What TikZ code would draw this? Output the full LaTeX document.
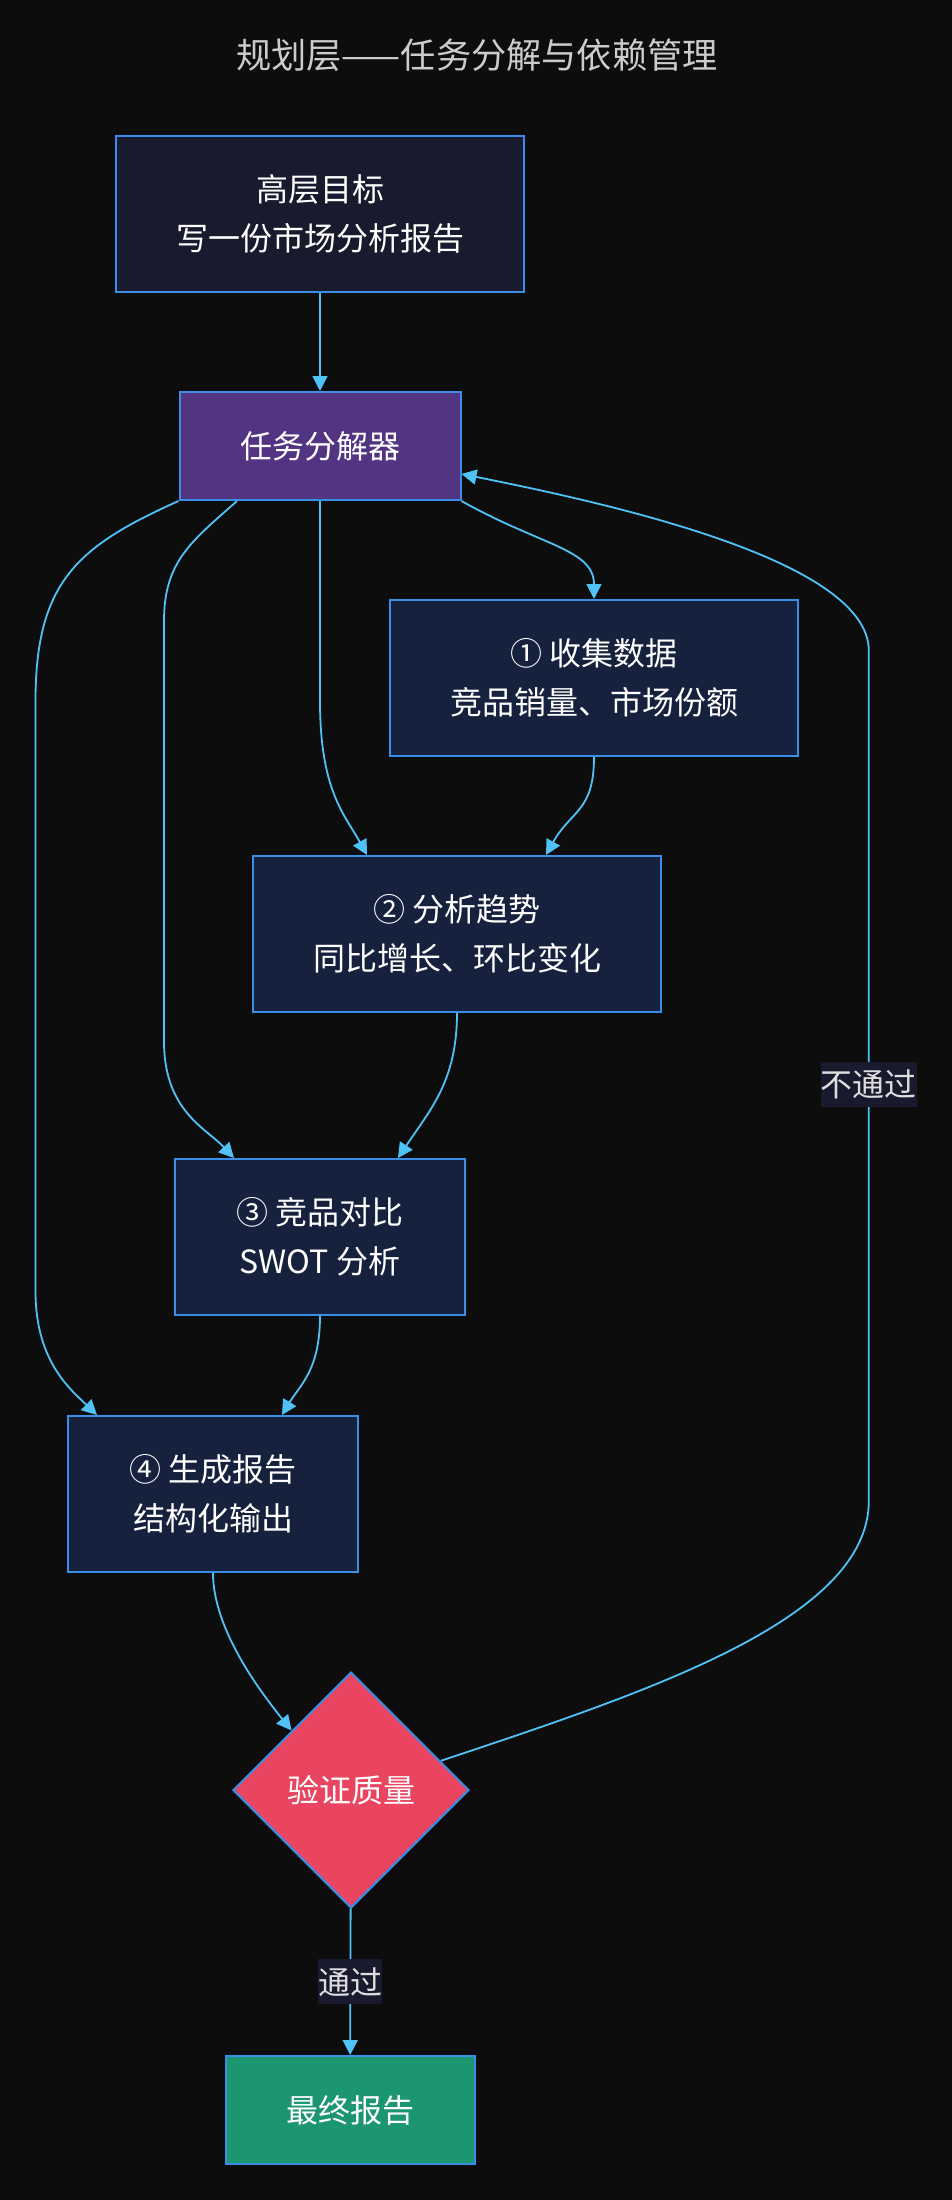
\documentclass[tikz,border=0pt]{standalone}
\usepackage{fontspec}
\setmainfont{Noto Sans CJK SC}
\usetikzlibrary{arrows.meta,shapes.geometric,calc}

\definecolor{bgdark}{HTML}{0D0D0D}
\definecolor{goalfill}{HTML}{1A1A2E}
\definecolor{taskfill}{HTML}{16213E}
\definecolor{splitfill}{HTML}{533483}
\definecolor{checkfill}{HTML}{E94560}
\definecolor{finalfill}{HTML}{1B9670}
\definecolor{boxline}{HTML}{3A8EE8}
\definecolor{edgeblue}{HTML}{4FC3F7}

\begin{document}
\begin{tikzpicture}[x=0.5pt, y=-0.5pt,
    every node/.style={font=\fontsize{16}{24.5}\selectfont, text=white, align=center},
    box/.style={draw=boxline, line width=1pt, inner sep=0pt},
    taskbox/.style={box, fill=taskfill, minimum height=78pt},
    edge/.style={draw=edgeblue, line width=0.9pt, -{Triangle[length=7.5pt, width=7.5pt]}},
    edgelabel/.style={fill=goalfill, text=black!13, inner xsep=0pt, inner ysep=4pt}]
    \fill[bgdark] (0,0) rectangle (952,2200);

    \node[text=black!20, font=\fontsize{17.6}{20}\selectfont] (title) at (477,55) {规划层——任务分解与依赖管理};

    \node[box, fill=goalfill, minimum width=204pt, minimum height=78pt] (goal) at (320,214) {高层目标\\写一份市场分析报告};
    \node[box, fill=splitfill, minimum width=140.5pt, minimum height=54pt] (splitter) at (320,446) {任务分解器};
    \node[taskbox, minimum width=204pt] (collect) at (594,678) {① 收集数据\\竞品销量、市场份额};
    \node[taskbox, minimum width=204pt] (trend) at (457,934) {② 分析趋势\\同比增长、环比变化};
    \node[taskbox, minimum width=145pt] (compare) at (320,1237) {③ 竞品对比\\SWOT 分析};
    \node[taskbox, minimum width=145pt] (report) at (213,1494) {④ 生成报告\\结构化输出};
    \node[box, diamond, aspect=1, fill=checkfill, minimum width=118pt, minimum height=118pt] (check) at (351,1790) {验证质量};
    \node[box, fill=finalfill, minimum width=124.5pt, minimum height=54pt] (final) at (350,2110) {最终报告};

    \draw[edge] (goal) -- (splitter);
    \draw[edge] (splitter.south east) .. controls +(80,45) and +(0,-50) .. (collect.north);
    \draw[edge] (splitter.south) -- ++(0,200) .. controls +(0,90) and +(-22,-40) .. ($(trend.north)+(-90,0)$);
    \draw[edge] (collect.south) .. controls +(0,55) and +(25,-45) .. ($(trend.north)+(89,0)$);
    \draw[edge] ($(splitter.south)+(-83,0)$) .. controls +(-45,40) and +(0,-60) .. ++(-73,120)
        -- ++(0,420) .. controls +(0,70) and +(-28,-30) .. ($(compare.north)+(-86,0)$);
    \draw[edge] (splitter.south west) .. controls +(-100,45) and +(0,-120) .. ++(-143,200)
        -- ++(0,590) .. controls +(0,70) and +(-27,-26) .. ($(report.north)+(-116,0)$);
    \draw[edge] (trend.south) .. controls +(0,68) and +(32,-48) .. ($(compare.north)+(78,0)$);
    \draw[edge] (compare.south) .. controls +(0,54) and +(18,-30) .. ($(report.north)+(69,0)$);
    \draw[edge] (report.south) .. controls +(0,58) and +(-28,-35) .. (check.north west);

    \draw[edge] (check) -- node[edgelabel] {通过} (final);
    \draw[edge] (check.18) .. controls +(200,-67) and +(0,120) .. ++(428,-260)
        -- node[edgelabel, pos=0.49] {不通过} ++(0,-850)
        .. controls +(0,-90) and +(150,30) .. ($(splitter.south east)+(0,-27)$);
\end{tikzpicture}
\end{document}
